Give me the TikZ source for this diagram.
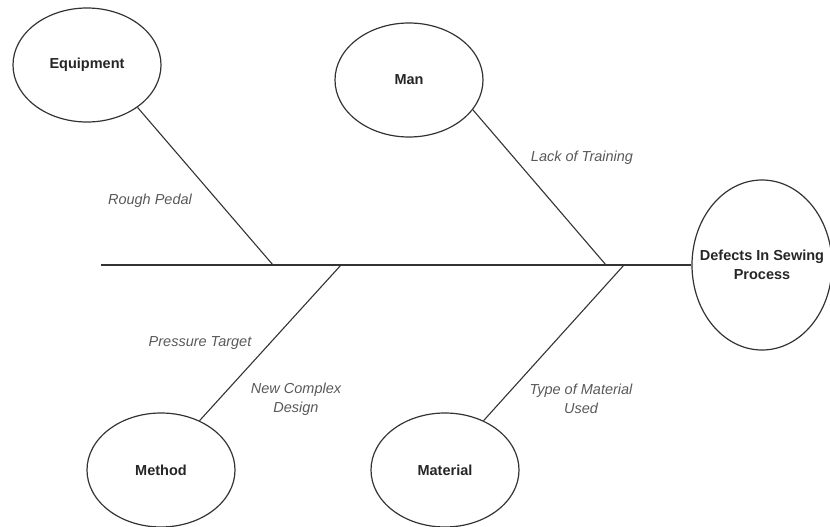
\documentclass[tikz,border=0pt]{standalone}
\usepackage{fontspec}
\setmainfont{Liberation Sans}
\usetikzlibrary{shapes.geometric}

\begin{document}
\begin{tikzpicture}[
  x=1pt, y=-1pt,
  cause/.style={ellipse, draw=black!80, line width=1.2pt,
    minimum width=148pt, minimum height=114pt, inner sep=0pt,
    font=\fontsize{14.5}{19}\selectfont\bfseries, text=black!85, align=center},
  effect/.style={cause, inner xsep=-16pt, minimum width=140pt, minimum height=170pt},
  bone/.style={draw=black!80, line width=1.1pt},
  why/.style={font=\fontsize{14.5}{19.5}\selectfont\itshape,
    text=black!65, align=center}
]
\useasboundingbox (0,0) rectangle (830,527);

\node[cause] (equip) at (87,65) {Equipment};
\node[cause] (man) at (409,80) {Man};
\node[cause] (method) at (161,470) {Method};
\node[cause] (material) at (445,470) {Material};
\node[effect] (defects) at (762,265) {Defects In Sewing\\Process};

\coordinate (tail) at (101,265);
\coordinate (jeq) at (273,265);
\coordinate (jme) at (341,265);
\coordinate (jma) at (606,265);
\coordinate (jmt) at (624,265);

\draw[bone] (tail) -- (defects.west);
\draw[bone] (equip.-40) -- (jeq);
\draw[bone] (man.-25) -- (jma);
\draw[bone] (method.52) -- (jme);
\draw[bone] (material.52) -- (jmt);

\node[why] (pedal) at (150,201) {Rough Pedal};
\node[why] (training) at (582,158) {Lack of Training};
\node[why] (target) at (200,343) {Pressure Target};
\node[why] (design) at (296,399) {New Complex\\Design};
\node[why] (type) at (581,399) {Type of Material\\Used};
\end{tikzpicture}
\end{document}
